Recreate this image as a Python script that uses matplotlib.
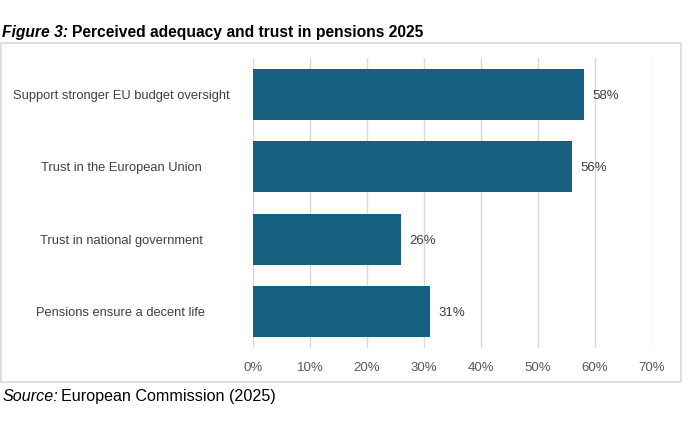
import matplotlib
matplotlib.use("Agg")
import matplotlib.pyplot as plt
from matplotlib.patches import Rectangle

categories = ["Support stronger EU budget oversight", "Trust in the European Union",
              "Trust in national government", "Pensions ensure a decent life"]
values = [58, 56, 26, 31]
xticks = [0, 10, 20, 30, 40, 50, 60, 70]
xtick_labels = ["0%", "10%", "20%", "30%", "40%", "50%", "60%", "70%"]

plt.rcParams['font.family'] = ['Liberation Sans', 'DejaVu Sans']

fig = plt.figure(figsize=(6.95, 4.28), dpi=100)
fig.patch.set_facecolor("white")

# outer box
fig.patches.append(Rectangle((0.0015, 0.1075), 0.978, 0.792, transform=fig.transFigure,
                             fill=False, edgecolor="#d9d9d9", linewidth=1.2))

ax = fig.add_axes([0.364, 0.187, 0.574, 0.6775])
y = list(range(len(categories)))
ax.barh(y, values, height=0.7, color="#17607f", zorder=3)
ax.set_ylim(3.5, -0.5)
ax.set_xlim(0, 70)
ax.set_xticks(xticks)
ax.set_xticklabels(xtick_labels)
ax.set_yticks(y)
ax.set_yticklabels(categories)
for s in ax.spines.values():
    s.set_visible(False)
ax.grid(axis="x", color="#d9d9d9", linewidth=1.0, zorder=0)
ax.tick_params(axis="x", length=0, pad=10, labelsize=9.5, labelcolor="#595959")
ax.tick_params(axis="y", length=0, pad=132 * 0.72, labelsize=9.25, labelcolor="#404040")
for lab in ax.get_yticklabels():
    lab.set_ha("center")
for yi, v in zip(y, values):
    ax.text(v + 1.5, yi, f"{v}%", va="center_baseline", ha="left", fontsize=9.5, color="#404040")

renderer = fig.canvas.get_renderer()

def two_part(x0, yy, t1, t2, size, kw1, kw2, gap_px):
    a = fig.text(x0, yy, t1, fontsize=size, va="baseline", ha="left", **kw1)
    bb = a.get_window_extent(renderer)
    x1 = (bb.x1 + gap_px) / fig.bbox.width
    fig.text(x1, yy, t2, fontsize=size, va="baseline", ha="left", **kw2)

two_part(0.003, 1 - 36.5 / 428, "Figure 3:", "Perceived adequacy and trust in pensions 2025", 11.25,
         dict(fontweight="bold", fontstyle="italic"), dict(fontweight="bold"), 4)
two_part(0.003, 1 - 401 / 428, "Source:", "European Commission (2025)", 11.6,
         dict(fontstyle="italic"), dict(), 3)

fig.savefig("out.png", dpi=100)
